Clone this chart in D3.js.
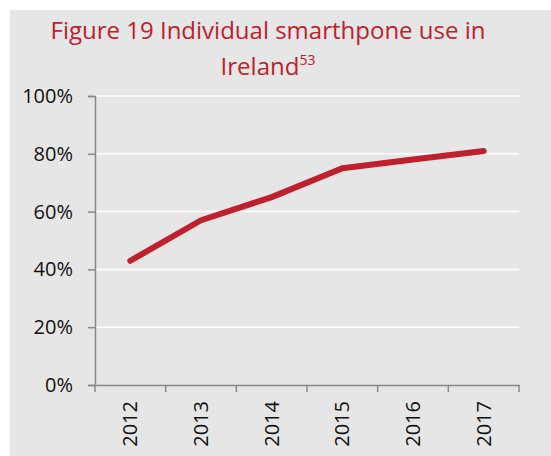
<!DOCTYPE html>
<html>
<head>
<meta charset="utf-8">
<script src="https://cdn.jsdelivr.net/npm/d3@7"></script>
<style>
  body { margin: 0; background: #fff; }
  svg { display: block; }
</style>
</head>
<body>
<script>
const years = ["2012", "2013", "2014", "2015", "2016", "2017"];
const usage = [0.43, 0.57, 0.65, 0.75, 0.78, 0.81];
const yTicks = [0, 0.2, 0.4, 0.6, 0.8, 1.0];

const width = 551;
const height = 456;
const margin = { top: 96, right: 32, bottom: 71, left: 95 };
const font = "'Open Sans', sans-serif";

const svg = d3.select("body").append("svg")
  .attr("width", width)
  .attr("height", height);

svg.append("rect")
  .attr("x", 10).attr("y", 10)
  .attr("width", width - 10).attr("height", height - 10)
  .attr("fill", "#e6e6e6");

const x = d3.scaleBand()
  .domain(years)
  .range([margin.left, width - margin.right]);

const y = d3.scaleLinear()
  .domain([0, 1])
  .range([height - margin.bottom, margin.top]);

// gridlines
svg.append("g")
  .selectAll("line")
  .data(yTicks.slice(1))
  .enter()
  .append("line")
  .attr("x1", margin.left)
  .attr("x2", width - margin.right)
  .attr("y1", (d) => y(d))
  .attr("y2", (d) => y(d))
  .attr("stroke", "#ffffff")
  .attr("stroke-width", 1.5);

// y axis
const yAxis = svg.append("g")
  .attr("transform", "translate(" + margin.left + ",0)")
  .call(d3.axisLeft(y).tickValues(yTicks).tickFormat(d3.format(".0%")).tickSizeOuter(0).tickSize(7));
yAxis.select(".domain").attr("stroke", "#888").attr("stroke-width", 1.5);
yAxis.selectAll(".tick line").attr("stroke", "#888").attr("stroke-width", 1.5);
yAxis.selectAll("text")
  .attr("font-family", font)
  .attr("font-size", "20px")
  .attr("fill", "#111")
  .attr("x", -22);

// x axis
const xAxis = svg.append("g")
  .attr("transform", "translate(0," + (height - margin.bottom) + ")")
  .call(d3.axisBottom(x).tickSize(0).tickSizeOuter(0));
xAxis.select(".domain").attr("stroke", "#888").attr("stroke-width", 1.5);
xAxis.selectAll(".tick line").remove();
const xTickPos = [margin.left].concat(years.map((d) => x(d) + x.bandwidth()));
xAxis.selectAll(".xtick")
  .data(xTickPos)
  .enter()
  .append("line")
  .attr("x1", (d) => d)
  .attr("x2", (d) => d)
  .attr("y1", 0)
  .attr("y2", 7)
  .attr("stroke", "#888")
  .attr("stroke-width", 1.5);
xAxis.selectAll(".tick text")
  .attr("font-family", font)
  .attr("font-size", "20px")
  .attr("fill", "#111")
  .attr("transform", "rotate(-90)")
  .attr("text-anchor", "end")
  .attr("x", -16)
  .attr("y", 0)
  .attr("dy", "0.35em");

// line
const line = d3.line()
  .x((d, i) => x(years[i]) + x.bandwidth() / 2)
  .y((d) => y(d));

svg.append("path")
  .datum(usage)
  .attr("d", line)
  .attr("fill", "none")
  .attr("stroke", "#c0202c")
  .attr("stroke-width", 6)
  .attr("stroke-linecap", "round")
  .attr("stroke-linejoin", "round");

// title
const title = svg.append("g")
  .attr("font-family", font)
  .attr("font-size", "24px")
  .attr("fill", "#c0202c")
  .attr("text-anchor", "middle");
title.append("text")
  .attr("x", 268).attr("y", 39)
  .text("Figure 19 Individual smarthpone use in");
const t2 = title.append("text").attr("x", 268).attr("y", 75);
t2.append("tspan").text("Ireland");
t2.append("tspan").attr("font-size", "14px").attr("dy", "-10").text("53");
</script>
</body>
</html>
